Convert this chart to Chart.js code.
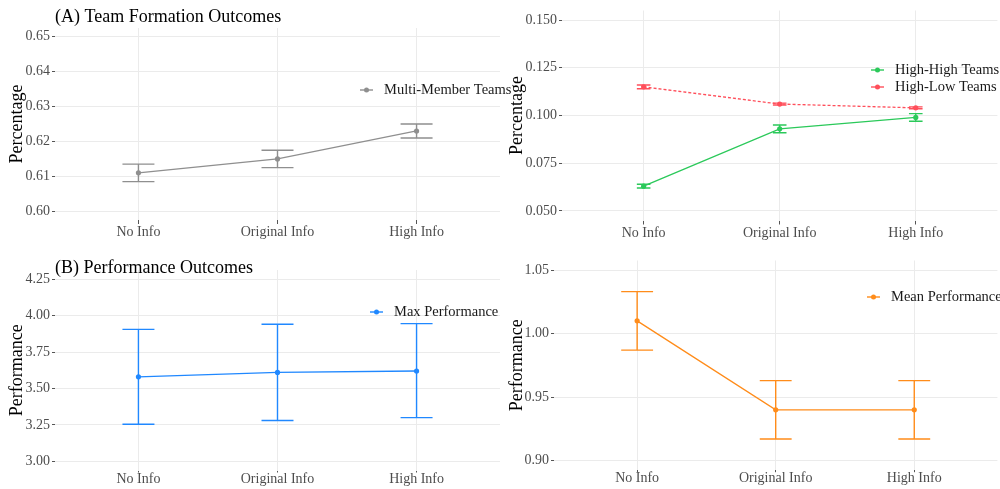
<!DOCTYPE html>
<html>
<head>
<meta charset="utf-8">
<script src="https://cdn.jsdelivr.net/npm/chart.js@4"></script>
<style>
  html, body { margin: 0; padding: 0; background: #fff; }
  body { width: 1000px; height: 489px; position: relative; overflow: hidden; }
  .panel { position: absolute; }
</style>
</head>
<body>
<div class="panel" style="left:0;top:0"><canvas id="c-tl" width="512" height="245"></canvas></div>
<div class="panel" style="left:0;top:245px"><canvas id="c-bl" width="512" height="244"></canvas></div>
<div class="panel" style="left:500px;top:0"><canvas id="c-tr" width="500" height="245"></canvas></div>
<div class="panel" style="left:500px;top:245px"><canvas id="c-br" width="500" height="244"></canvas></div>
<script>
// 4パネル：チーム形成とパフォーマンスの比較（平均 ± エラーバー）
const categories = ["No Info", "Original Info", "High Info"];

const multiMember = [0.611, 0.615, 0.623];
const multiMemberLo = [0.6085, 0.6125, 0.621];
const multiMemberHi = [0.6135, 0.6175, 0.625];

const highHigh = [0.063, 0.093, 0.099];
const highHighLo = [0.062, 0.091, 0.097];
const highHighHi = [0.064, 0.095, 0.101];

const highLow = [0.115, 0.106, 0.104];
const highLowLo = [0.114, 0.1055, 0.1035];
const highLowHi = [0.116, 0.1065, 0.1045];

const maxPerf = [3.58, 3.61, 3.62];
const maxPerfLo = [3.255, 3.28, 3.30];
const maxPerfHi = [3.905, 3.94, 3.945];

const meanPerf = [1.01, 0.94, 0.94];
const meanPerfLo = [0.987, 0.917, 0.917];
const meanPerfHi = [1.033, 0.963, 0.963];

const ticksTeam = [0.60, 0.61, 0.62, 0.63, 0.64, 0.65];
const ticksPair = [0.050, 0.075, 0.100, 0.125, 0.150];
const ticksMax = [3.00, 3.25, 3.50, 3.75, 4.00, 4.25];
const ticksMean = [0.90, 0.95, 1.00, 1.05];

const COLORS = {
  gray: "#8f8f8f",
  green: "#2bc95a",
  red: "#ff4f5b",
  blue: "#2088ff",
  orange: "#ff8c1a",
  tick: "#4d4d4d",
  grid: "#ebebeb",
};
const SERIF = "'Liberation Serif', 'DejaVu Serif', serif";

const pts = (arr) => arr.map((v, i) => ({ x: i, y: v }));

// エラーバーを描くプラグイン
const errorBars = {
  id: "errorBars",
  beforeDatasetsDraw(chart) {
    const { ctx, scales: { x, y } } = chart;
    chart.data.datasets.forEach((ds) => {
      if (!ds.err) return;
      ctx.save();
      ctx.strokeStyle = ds.err.color || ds.borderColor;
      ctx.lineWidth = 1.4;
      ds.err.lo.forEach((lo, i) => {
        const hi = ds.err.hi[i];
        const px = x.getPixelForValue(i);
        const half = (x.getPixelForValue(i + ds.err.cap / 2) - px);
        const yl = y.getPixelForValue(lo), yh = y.getPixelForValue(hi);
        ctx.beginPath();
        ctx.moveTo(px, yl); ctx.lineTo(px, yh);
        ctx.moveTo(px - half, yl); ctx.lineTo(px + half, yl);
        ctx.moveTo(px - half, yh); ctx.lineTo(px + half, yh);
        ctx.stroke();
      });
      ctx.restore();
    });
  },
};

// パネル見出しと凡例
const panelText = {
  id: "panelText",
  afterDraw(chart, args, opts) {
    const { ctx, chartArea } = chart;
    ctx.save();
    if (opts.title) {
      ctx.font = `18px ${SERIF}`;
      ctx.fillStyle = "#000";
      ctx.textBaseline = "middle";
      ctx.textAlign = "left";
      ctx.fillText(opts.title, chartArea.left, opts.titleY);
    }
    if (opts.legend) {
      const { x, y, row } = opts.legend;
      ctx.font = `14.5px ${SERIF}`;
      ctx.textBaseline = "middle";
      chart.data.datasets.forEach((ds, i) => {
        const ly = y + i * row;
        ctx.strokeStyle = ds.borderColor;
        ctx.fillStyle = ds.borderColor;
        ctx.lineWidth = 1.4;
        ctx.beginPath();
        ctx.moveTo(x - 24, ly); ctx.lineTo(x - 11, ly);
        ctx.stroke();
        ctx.beginPath();
        ctx.arc(x - 17.5, ly, 2.5, 0, Math.PI * 2);
        ctx.fill();
        ctx.fillStyle = "#1a1a1a";
        ctx.fillText(ds.label, x, ly);
      });
    }
    ctx.restore();
  },
};

function makePanel(id, cfg) {
  const datasets = cfg.series.map((s) => ({
    label: s.label,
    data: pts(s.values),
    borderColor: s.color,
    backgroundColor: s.color,
    borderWidth: 1.3,
    borderDash: s.dash || [],
    pointRadius: 2.6,
    pointHoverRadius: 2.6,
    pointBorderWidth: 0,
    tension: 0,
    err: { lo: s.lo, hi: s.hi, cap: s.cap, color: s.errColor },
  }));
  new Chart(document.getElementById(id), {
    type: "line",
    data: { datasets },
    options: {
      responsive: false,
      animation: false,
      events: [],
      layout: { padding: cfg.padding },
      plugins: {
        legend: { display: false },
        tooltip: { enabled: false },
        panelText: { title: cfg.title, titleY: cfg.titleY, legend: cfg.legend },
      },
      scales: {
        x: {
          type: "linear",
          min: -0.6,
          max: 2.6,
          afterBuildTicks: (s) => { s.ticks = categories.map((_, i) => ({ value: i })); },
          afterFit: (s) => { s.height = cfg.xh; },
          ticks: {
            color: COLORS.tick,
            font: { family: SERIF, size: 14 },
            padding: cfg.xPad,
            maxRotation: 0,
            autoSkip: false,
            callback: (v) => categories[v],
          },
          grid: { color: COLORS.grid, tickColor: "#555", tickLength: cfg.xTick, lineWidth: 1 },
          border: { display: false },
        },
        y: {
          type: "linear",
          min: cfg.yMin,
          max: cfg.yMax,
          afterBuildTicks: (s) => { s.ticks = cfg.yTicks.map((v) => ({ value: v })); },
          afterFit: (s) => { s.width = cfg.yw; },
          ticks: {
            color: COLORS.tick,
            font: { family: SERIF, size: 14 },
            padding: 2,
            callback: (v) => v.toFixed(cfg.digits),
          },
          grid: { color: COLORS.grid, tickColor: "#555", tickLength: 3, lineWidth: 1 },
          border: { display: false },
          title: {
            display: true,
            text: cfg.yTitle,
            color: "#000",
            font: { family: SERIF, size: 18 },
            padding: { top: 6, bottom: 0 },
          },
        },
      },
    },
    plugins: [errorBars, panelText],
  });
}

makePanel("c-tl", {
  series: [{ label: "Multi-Member Teams", values: multiMember, lo: multiMemberLo, hi: multiMemberHi, color: COLORS.gray, cap: 0.23 }],
  yTicks: ticksTeam, yMin: 0.5975, yMax: 0.6525, digits: 2, yTitle: "Percentage",
  padding: { top: 28, right: 12, left: 0, bottom: 0 }, yw: 55, xh: 25, xPad: 0, xTick: 4,
  title: "(A) Team Formation Outcomes", titleY: 17,
  legend: { x: 384, y: 90, row: 17 },
});

makePanel("c-tr", {
  series: [
    { label: "High-High Teams", values: highHigh, lo: highHighLo, hi: highHighHi, color: COLORS.green, cap: 0.1 },
    { label: "High-Low Teams", values: highLow, lo: highLowLo, hi: highLowHi, color: COLORS.red, cap: 0.1, dash: [3, 2] },
  ],
  yTicks: ticksPair, yMin: 0.045, yMax: 0.155, digits: 3, yTitle: "Percentage",
  padding: { top: 10.5, right: 1, left: 0, bottom: 0 }, yw: 62, xh: 24.5, xPad: 0, xTick: 4,
  legend: { x: 395, y: 70, row: 17 },
});

makePanel("c-bl", {
  series: [{ label: "Max Performance", values: maxPerf, lo: maxPerfLo, hi: maxPerfHi, color: COLORS.blue, cap: 0.23 }],
  yTicks: ticksMax, yMin: 2.9375, yMax: 4.3125, digits: 2, yTitle: "Performance",
  padding: { top: 25, right: 12, left: 0, bottom: 0 }, yw: 55, xh: 18.5, xPad: -2, xTick: 2,
  title: "(B) Performance Outcomes", titleY: 23,
  legend: { x: 394, y: 67, row: 17 },
});

makePanel("c-br", {
  series: [{ label: "Mean Performance", values: meanPerf, lo: meanPerfLo, hi: meanPerfHi, color: COLORS.orange, cap: 0.23 }],
  yTicks: ticksMean, yMin: 0.8925, yMax: 1.0575, digits: 2, yTitle: "Performance",
  padding: { top: 15.5, right: 1, left: 0, bottom: 0 }, yw: 54, xh: 18.8, xPad: -2, xTick: 2,
  legend: { x: 391, y: 52, row: 17 },
});
</script>
</body>
</html>
